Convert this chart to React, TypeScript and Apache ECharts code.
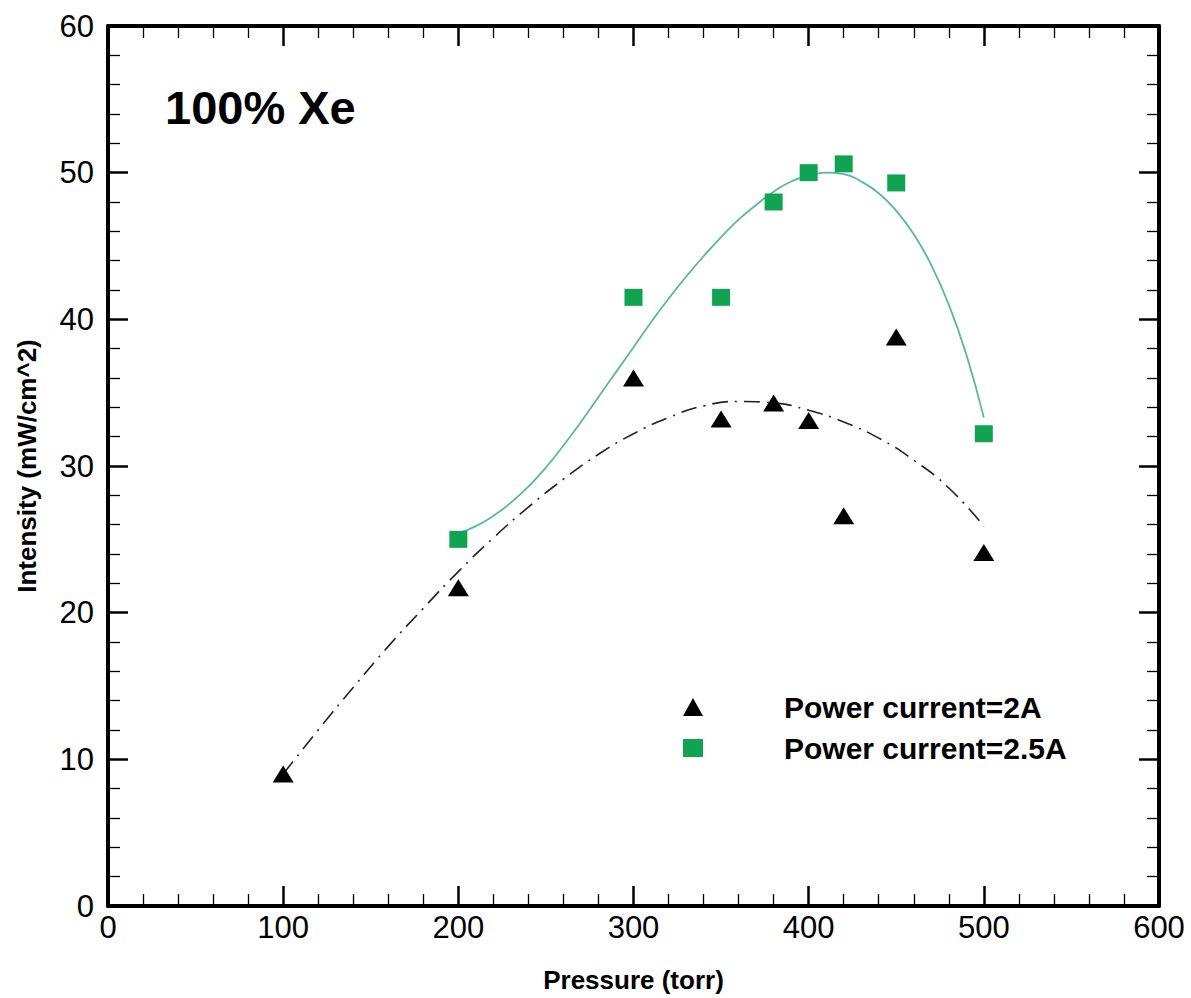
import React, { useEffect, useRef } from "react";
import * as echarts from "echarts";

const FONT = '"Liberation Sans", Arial, sans-serif';

// Measured points
const pressure2A = [100, 200, 300, 350, 380, 400, 420, 450, 500];
const intensity2A = [9.0, 21.7, 36.0, 33.2, 34.3, 33.1, 26.6, 38.8, 24.1];

const pressure25A = [200, 300, 350, 380, 400, 420, 450, 500];
const intensity25A = [25.0, 41.5, 41.5, 48.0, 50.0, 50.6, 49.3, 32.2];

// Fitted curves
const fit2AX = [100, 120, 140, 160, 180, 200, 220, 240, 260, 280, 300, 320, 340, 360, 380, 400, 420, 440, 460, 480, 500];
const fit2AY = [9.0, 12.0, 14.9, 17.7, 20.3, 22.8, 25.1, 27.2, 29.1, 30.8, 32.2, 33.3, 34.1, 34.4, 34.3, 33.8, 33.0, 31.9, 30.4, 28.5, 25.9];

const fit25AX = [200, 210, 220, 230, 240, 250, 260, 270, 280, 290, 300, 310, 320, 330, 340, 350, 360, 370, 380, 390, 400, 410, 420, 430, 440, 450, 460, 470, 480, 490, 500];
const fit25AY = [25.4, 25.9, 26.6, 27.5, 28.6, 29.9, 31.4, 33.0, 34.7, 36.4, 38.1, 39.8, 41.4, 42.9, 44.3, 45.6, 46.8, 47.8, 48.7, 49.4, 49.8, 50.0, 49.9, 49.4, 48.6, 47.4, 45.8, 43.7, 41.0, 37.6, 33.3];

const xTicks = { min: 0, max: 600, interval: 100 };
const yTicks = { min: 0, max: 60, interval: 10 };

const seriesNames = ["Power current=2A", "Power current=2.5A"];
const titleText = "100% Xe";
const xTitle = "Pressure (torr)";
const yTitle = "Intensity (mW/cm^2)";

const zip = (a: number[], b: number[]) => a.map((v, i) => [v, b[i]]);

export default function App() {
  const ref = useRef<HTMLDivElement>(null);
  useEffect(() => {
    const chart = echarts.init(ref.current!, null, { renderer: "svg" });
    const tickCommon = {
      axisLine: { show: true, onZero: false, lineStyle: { color: "#000", width: 4 } },
      axisTick: { show: true, inside: true, length: 20, lineStyle: { color: "#000", width: 2.5 } },
      minorTick: { show: true, splitNumber: 5, length: 12, lineStyle: { color: "#000", width: 1.3 } },
      splitLine: { show: false },
      minorSplitLine: { show: false },
    };
    const labelStyle = { color: "#000", fontSize: 31, fontFamily: FONT };
    chart.setOption({
      animation: false,
      backgroundColor: "#fff",
      grid: { left: 108, right: 32, top: 26, bottom: 91, containLabel: false },
      xAxis: [
        {
          type: "value",
          ...xTicks,
          position: "bottom",
          ...tickCommon,
          axisLabel: { ...labelStyle, margin: 6 },
          name: xTitle,
          nameLocation: "middle",
          nameGap: 61,
          nameTextStyle: { color: "#000", fontSize: 26, fontWeight: "bold", fontFamily: FONT },
        },
        {
          type: "value",
          ...xTicks,
          position: "top",
          ...tickCommon,
          axisLabel: { show: false },
        },
      ],
      yAxis: [
        {
          type: "value",
          ...yTicks,
          position: "left",
          ...tickCommon,
          axisLabel: { ...labelStyle, margin: 14 },
          name: yTitle,
          nameLocation: "middle",
          nameGap: 68,
          nameTextStyle: { color: "#000", fontSize: 26, fontWeight: "bold", fontFamily: FONT },
        },
        {
          type: "value",
          ...yTicks,
          position: "right",
          ...tickCommon,
          axisLabel: { show: false },
        },
      ],
      legend: {
        orient: "vertical",
        left: 678,
        top: 687,
        itemGap: 11,
        itemWidth: 20,
        itemHeight: 18,
        data: [
          { name: seriesNames[0], icon: "triangle", itemStyle: { color: "#000", opacity: 1 } },
          { name: seriesNames[1], icon: "rect", itemStyle: { color: "#10a352", opacity: 1 } },
        ],
        textStyle: { color: "#000", fontSize: 30, fontWeight: "bold", fontFamily: FONT, padding: [0, 0, 0, 76] },
      },
      graphic: [
        {
          type: "text",
          left: 165,
          top: 84,
          style: { text: titleText, fill: "#000", font: `bold 47px ${FONT}` },
        },
      ],
      series: [
        {
          type: "line",
          data: zip(fit2AX, fit2AY),
          smooth: true,
          showSymbol: false,
          silent: true,
          lineStyle: { color: "#222", width: 1.6, type: [16, 7, 2, 7] },
          z: 1,
        },
        {
          type: "line",
          data: zip(fit25AX, fit25AY),
          smooth: true,
          showSymbol: false,
          silent: true,
          lineStyle: { color: "#5bb898", width: 1.8 },
          z: 1,
        },
        {
          name: seriesNames[0],
          type: "scatter",
          data: zip(pressure2A, intensity2A),
          symbol: "triangle",
          symbolSize: [21, 17],
          itemStyle: { color: "#000", opacity: 1 },
          z: 3,
        },
        {
          name: seriesNames[1],
          type: "scatter",
          data: zip(pressure25A, intensity25A),
          symbol: "rect",
          symbolSize: [18, 17],
          itemStyle: { color: "#10a352", opacity: 1 },
          z: 3,
        },
      ],
    });
    return () => chart.dispose();
  }, []);
  return (
    <div
      ref={ref}
      style={{ position: "fixed", left: 0, top: 0, width: 1191, height: 998, background: "#fff" }}
    />
  );
}
